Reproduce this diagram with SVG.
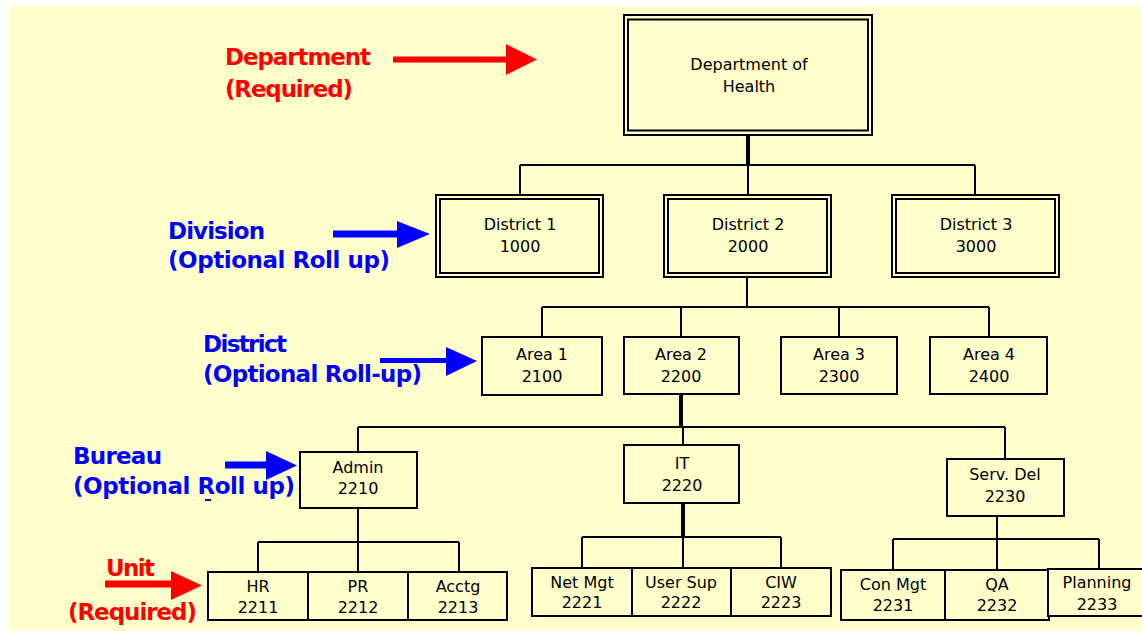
<svg xmlns="http://www.w3.org/2000/svg" width="1142" height="631" viewBox="0 0 1142 631">
  <style>
    .box { fill: #FFFFCC; stroke: #000; stroke-width: 2; }
    .dbl { fill: none; stroke: #000; stroke-width: 2; }
    .lbl { font-family: "DejaVu Sans", "Liberation Sans", sans-serif; font-size: 16px; fill: #000; text-anchor: middle; }
    .wire { stroke: #000; stroke-width: 2; fill: none; }
    .trunk { stroke: #000; stroke-width: 4; fill: none; }
    .tag { font-family: "DejaVu Sans", "Liberation Sans", sans-serif; font-size: 23px; font-weight: bold; }
    .red { fill: #FF0000; }
    .blue { fill: #0000FF; }
  </style>

  <!-- canvas -->
  <rect x="0" y="0" width="1142" height="631" fill="#FFFFFF"/>
  <rect x="9" y="6" width="1133" height="625" fill="#FFFFCC"/>

  <!-- connectors -->
  <g id="connectors">
    <path class="trunk" d="M748 136 V165"/>
    <path class="wire" d="M520 165 H975 M520 165 V194 M748 165 V194 M975 165 V194"/>
    <path class="wire" d="M747 278 V307 M542 307 H989 M542 307 V337 M681 307 V337 M839 307 V337 M989 307 V337"/>
    <path class="trunk" d="M681 395 V427"/>
    <path class="wire" d="M358 427 H1005 M358 427 V452 M683 427 V445 M1005 427 V459"/>
    <path class="wire" d="M358 508 V542 M258 542 H459 M258 542 V572 M358 542 V572 M459 542 V572"/>
    <path class="trunk" d="M683 503 V537"/>
    <path class="wire" d="M582 537 H781 M582 537 V568 M683 537 V568 M781 537 V568"/>
    <path class="wire" d="M997 516 V539 M893 539 H1099 M893 539 V570 M997 539 V570 M1099 539 V570"/>
  </g>

  <!-- level 1 -->
  <g id="dept-health">
    <rect class="box" x="624" y="15" width="248" height="120"/>
    <rect class="dbl" x="628" y="19.5" width="240" height="111"/>
    <text class="lbl" x="749" y="70">Department of</text>
    <text class="lbl" x="749" y="92">Health</text>
  </g>

  <!-- level 2 -->
  <g id="district-1">
    <rect class="box" x="436" y="195" width="167" height="82"/>
    <rect class="dbl" x="440" y="199" width="159" height="74"/>
    <text class="lbl" x="520" y="230">District 1</text>
    <text class="lbl" x="520" y="252">1000</text>
  </g>
  <g id="district-2">
    <rect class="box" x="664" y="195" width="167" height="82"/>
    <rect class="dbl" x="668" y="199" width="159" height="74"/>
    <text class="lbl" x="748" y="230">District 2</text>
    <text class="lbl" x="748" y="252">2000</text>
  </g>
  <g id="district-3">
    <rect class="box" x="892" y="195" width="167" height="82"/>
    <rect class="dbl" x="896" y="199" width="159" height="74"/>
    <text class="lbl" x="976" y="230">District 3</text>
    <text class="lbl" x="976" y="252">3000</text>
  </g>

  <!-- level 3 -->
  <g id="area-1">
    <rect class="box" x="482" y="337" width="120" height="58"/>
    <text class="lbl" x="542" y="360">Area 1</text>
    <text class="lbl" x="542" y="382">2100</text>
  </g>
  <g id="area-2">
    <rect class="box" x="624" y="337" width="115" height="57"/>
    <text class="lbl" x="681" y="360">Area 2</text>
    <text class="lbl" x="681" y="382">2200</text>
  </g>
  <g id="area-3">
    <rect class="box" x="781" y="337" width="116" height="57"/>
    <text class="lbl" x="839" y="360">Area 3</text>
    <text class="lbl" x="839" y="382">2300</text>
  </g>
  <g id="area-4">
    <rect class="box" x="930" y="337" width="117" height="57"/>
    <text class="lbl" x="989" y="360">Area 4</text>
    <text class="lbl" x="989" y="382">2400</text>
  </g>

  <!-- level 4 -->
  <g id="admin">
    <rect class="box" x="300" y="452" width="117" height="56"/>
    <text class="lbl" x="358" y="473">Admin</text>
    <text class="lbl" x="358" y="494">2210</text>
  </g>
  <g id="it">
    <rect class="box" x="624" y="445" width="115" height="58"/>
    <text class="lbl" x="682" y="469">IT</text>
    <text class="lbl" x="682" y="491">2220</text>
  </g>
  <g id="serv-del">
    <rect class="box" x="947" y="459" width="117" height="57"/>
    <text class="lbl" x="1005" y="480">Serv. Del</text>
    <text class="lbl" x="1005" y="502">2230</text>
  </g>

  <!-- level 5 -->
  <g id="hr">
    <rect class="box" x="208" y="572" width="100" height="48"/>
    <text class="lbl" x="258" y="592">HR</text>
    <text class="lbl" x="258" y="613">2211</text>
  </g>
  <g id="pr">
    <rect class="box" x="308" y="572" width="100" height="48"/>
    <text class="lbl" x="358" y="592">PR</text>
    <text class="lbl" x="358" y="613">2212</text>
  </g>
  <g id="acctg">
    <rect class="box" x="408" y="572" width="99" height="48"/>
    <text class="lbl" x="458" y="592">Acctg</text>
    <text class="lbl" x="458" y="613">2213</text>
  </g>
  <g id="net-mgt">
    <rect class="box" x="532" y="568" width="100" height="48"/>
    <text class="lbl" x="582" y="588">Net Mgt</text>
    <text class="lbl" x="582" y="608">2221</text>
  </g>
  <g id="user-sup">
    <rect class="box" x="632" y="568" width="99" height="48"/>
    <text class="lbl" x="681" y="588">User Sup</text>
    <text class="lbl" x="681" y="608">2222</text>
  </g>
  <g id="ciw">
    <rect class="box" x="731" y="568" width="100" height="48"/>
    <text class="lbl" x="781" y="588">CIW</text>
    <text class="lbl" x="781" y="608">2223</text>
  </g>
  <g id="con-mgt">
    <rect class="box" x="841" y="570" width="104" height="50"/>
    <text class="lbl" x="893" y="590">Con Mgt</text>
    <text class="lbl" x="893" y="611">2231</text>
  </g>
  <g id="qa">
    <rect class="box" x="945" y="570" width="104" height="50"/>
    <text class="lbl" x="997" y="590">QA</text>
    <text class="lbl" x="997" y="611">2232</text>
  </g>
  <g id="planning">
    <rect class="box" x="1048" y="569" width="100" height="47"/>
    <text class="lbl" x="1097" y="588">Planning</text>
    <text class="lbl" x="1097" y="610">2233</text>
  </g>

  <!-- level captions with pointers -->
  <g id="cap-department">
    <text class="tag red" x="225" y="65" textLength="146">Department</text>
    <text class="tag red" x="225" y="97" textLength="128">(Required)</text>
    <rect class="red" x="393" y="56.5" width="114" height="6"/>
    <polygon class="red" points="506,44 537,59.5 506,75"/>
  </g>
  <g id="cap-division">
    <text class="tag blue" x="168" y="239" textLength="97">Division</text>
    <text class="tag blue" x="168" y="268" textLength="222">(Optional Roll up)</text>
    <rect class="blue" x="333" y="230.5" width="65" height="7"/>
    <polygon class="blue" points="397,221 430,234 397,248"/>
  </g>
  <g id="cap-district">
    <text class="tag blue" x="203" y="352" textLength="84">District</text>
    <text class="tag blue" x="203" y="382" textLength="219">(Optional Roll-up)</text>
    <rect class="blue" x="380" y="358" width="67" height="5"/>
    <polygon class="blue" points="446,347 477,361 446,376"/>
  </g>
  <g id="cap-bureau">
    <text class="tag blue" x="73" y="464" textLength="89">Bureau</text>
    <text class="tag blue" x="73" y="494" textLength="222">(Optional Roll up)</text>
    <rect class="blue" x="205" y="499" width="6" height="2"/>
    <rect class="blue" x="225" y="461.5" width="42" height="7"/>
    <polygon class="blue" points="266,451 297,465.5 266,480"/>
  </g>
  <g id="cap-unit">
    <text class="tag red" x="106" y="576" textLength="49">Unit</text>
    <text class="tag red" x="68" y="620" textLength="129">(Required)</text>
    <rect class="red" x="105" y="580.5" width="67" height="7"/>
    <polygon class="red" points="171,571 202,585.5 171,600"/>
  </g>
</svg>
